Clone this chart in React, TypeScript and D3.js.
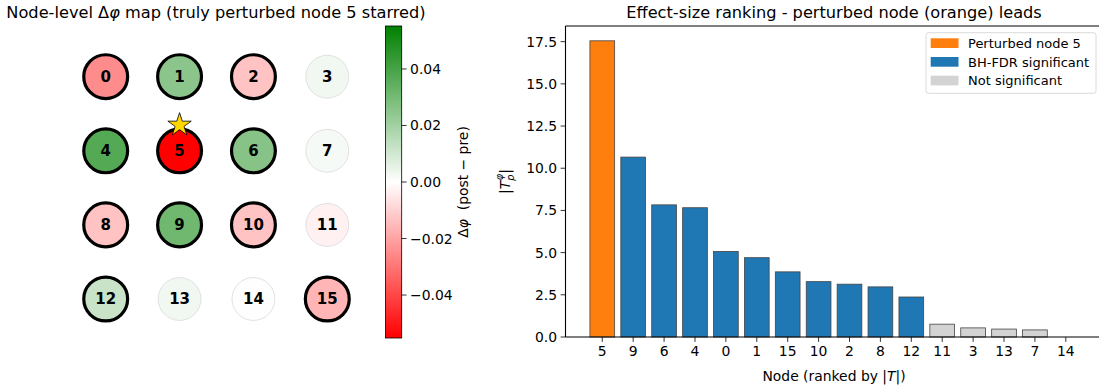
import * as d3 from "d3";

// left panel: per-node phase change on a 4x4 grid
const nodeIds = [0, 1, 2, 3, 4, 5, 6, 7, 8, 9, 10, 11, 12, 13, 14, 15];
const deltaPhi = [
  -0.025, 0.025, -0.013, 0.003, 0.037, -0.0552, 0.026, 0.002, -0.013, 0.031,
  -0.013, -0.003, 0.012, 0.003, 0.0005, -0.016,
];
const significantNodes = [0, 1, 2, 4, 5, 6, 8, 9, 10, 12, 15];
const perturbedNode = 5;
const cbarTicks = [-0.04, -0.02, 0, 0.02, 0.04];

// right panel: ranked effect sizes
const rankedNodes = [5, 9, 6, 4, 0, 1, 15, 10, 2, 8, 12, 11, 3, 13, 7, 14];
const tValues = [
  17.55, 10.66, 7.83, 7.66, 5.07, 4.7, 3.86, 3.28, 3.13, 2.97, 2.37, 0.76, 0.54,
  0.47, 0.42, 0.0,
];
const yTicks = [0, 2.5, 5, 7.5, 10, 12.5, 15, 17.5];
const legendItems = [
  { label: "Perturbed node 5", color: "#ff7f0e" },
  { label: "BH-FDR significant", color: "#1f77b4" },
  { label: "Not significant", color: "#d3d3d3" },
];

const W = 1099;
const H = 389;
const font = "DejaVu Sans, sans-serif";

function starPath(cx: number, cy: number, R: number) {
  const r = R * 0.381966;
  const pts: string[] = [];
  for (let i = 0; i < 10; i++) {
    const a = -Math.PI / 2 + (i * Math.PI) / 5;
    const rr = i % 2 === 0 ? R : r;
    pts.push(`${cx + rr * Math.cos(a)},${cy + rr * Math.sin(a)}`);
  }
  return "M" + pts.join("L") + "Z";
}

export default function App() {
  const vmax = d3.max(deltaPhi, (d) => Math.abs(d)) as number;
  const color = d3
    .scaleLinear<string>()
    .domain([-vmax, 0, vmax])
    .range(["#ff0000", "#ffffff", "#008000"])
    .interpolate(d3.interpolateRgb);

  const gx = d3.scaleLinear().domain([0, 3]).range([105.7, 327.3]);
  const gy = d3.scaleLinear().domain([0, 3]).range([76.7, 299]);
  const unit = gx(1) - gx(0);
  const radius = 0.297 * unit;

  // colorbar
  const cbX = 385.5;
  const cbW = 16.2;
  const cbY = d3.scaleLinear().domain([-vmax, vmax]).range([338, 26]);
  const gradStops = d3.range(0, 1.0001, 0.05);

  // bar chart
  const left = 565.5;
  const right = 1102.6;
  const top = 26;
  const bottom = 337;
  const x = d3
    .scaleBand<number>()
    .domain(rankedNodes)
    .range([left, right])
    .paddingInner(0.2)
    .paddingOuter(0.79);
  const yMax = d3.max(tValues)! * 1.05;
  const y = d3.scaleLinear().domain([0, yMax]).range([bottom, top]);

  const barColor = (n: number) =>
    n === perturbedNode
      ? "#ff7f0e"
      : significantNodes.includes(n)
      ? "#1f77b4"
      : "#d3d3d3";

  return (
    <svg
      width={W}
      height={H}
      style={{ position: "absolute", left: 0, top: 0, background: "white" }}
      fontFamily={font}
    >
      <defs>
        <linearGradient id="cbar" x1="0" y1="1" x2="0" y2="0">
          {gradStops.map((t, i) => (
            <stop
              key={i}
              offset={t}
              stopColor={color(-vmax + 2 * vmax * t)}
            />
          ))}
        </linearGradient>
      </defs>

      {/* left title */}
      <text x={216} y={18} textAnchor="middle" fontSize={16.2} fill="#000">
        Node-level Δ<tspan fontStyle="italic">φ</tspan> map (truly perturbed
        node 5 starred)
      </text>

      {/* node grid */}
      {nodeIds.map((n) => {
        const cx = gx(n % 4);
        const cy = gy(Math.floor(n / 4));
        const sig = significantNodes.includes(n);
        return (
          <g key={n}>
            <circle
              cx={cx}
              cy={cy}
              r={sig ? radius : radius - 0.5}
              fill={color(deltaPhi[n])}
              stroke={sig ? "#000" : "#d9d9d9"}
              strokeWidth={sig ? 3.2 : 0.8}
            />
            <text
              x={cx}
              y={cy}
              dy="0.36em"
              textAnchor="middle"
              fontSize={15}
              fontWeight="bold"
              fill="#000"
            >
              {n}
            </text>
          </g>
        );
      })}
      <path
        d={starPath(
          gx(perturbedNode % 4),
          gy(Math.floor(perturbedNode / 4)) - 0.35 * unit,
          12.3
        )}
        fill="#ffd700"
        stroke="#000"
        strokeWidth={0.8}
      />

      {/* colorbar */}
      <rect
        x={cbX}
        y={cbY(vmax)}
        width={cbW}
        height={cbY(-vmax) - cbY(vmax)}
        fill="url(#cbar)"
        stroke="#000"
        strokeWidth={0.8}
      />
      {cbarTicks.map((t) => (
        <g key={t}>
          <line
            x1={cbX + cbW}
            x2={cbX + cbW + 4.9}
            y1={cbY(t)}
            y2={cbY(t)}
            stroke="#000"
            strokeWidth={0.8}
          />
          <text
            x={cbX + cbW + 8.4}
            y={cbY(t)}
            dy="0.36em"
            fontSize={13.9}
            fill="#000"
          >
            {d3.format(".2f")(t).replace("-", "\u2212")}
          </text>
        </g>
      ))}
      <text
        transform={`translate(${468},${cbY(0)}) rotate(-90)`}
        textAnchor="middle"
        fontSize={13.9}
        fill="#000"
      >
        Δ<tspan fontStyle="italic">φ</tspan>
        {"\u00a0\u00a0(post \u2212 pre)"}
      </text>

      {/* right title */}
      <text
        x={(left + right) / 2}
        y={18}
        textAnchor="middle"
        fontSize={16.2}
        fill="#000"
      >
        Effect-size ranking - perturbed node (orange) leads
      </text>

      {/* bars */}
      {rankedNodes.map((n, i) => (
        <rect
          key={n}
          x={x(n)}
          y={y(tValues[i])}
          width={x.bandwidth()}
          height={bottom - y(tValues[i])}
          fill={barColor(n)}
          stroke="#444"
          strokeWidth={0.8}
        />
      ))}

      {/* axes frame */}
      <line x1={left} x2={left} y1={top} y2={bottom} stroke="#000" strokeWidth={1.1} />
      <line x1={left} x2={right} y1={top} y2={top} stroke="#000" strokeWidth={1.1} />
      <line x1={right} x2={right} y1={top} y2={bottom} stroke="#000" strokeWidth={1.1} />
      <line x1={left} x2={right} y1={bottom} y2={bottom} stroke="#000" strokeWidth={1.1} />

      {/* y axis */}
      {yTicks.map((t) => (
        <g key={t}>
          <line
            x1={left - 4.9}
            x2={left}
            y1={y(t)}
            y2={y(t)}
            stroke="#000"
            strokeWidth={0.8}
          />
          <text
            x={left - 8.4}
            y={y(t)}
            dy="0.36em"
            textAnchor="end"
            fontSize={13.9}
            fill="#000"
          >
            {d3.format(".1f")(t)}
          </text>
        </g>
      ))}
      <text
        transform={`translate(${510},${(top + bottom) / 2}) rotate(-90)`}
        textAnchor="middle"
        fontSize={13.9}
        fill="#000"
      >
        |<tspan fontStyle="italic">T</tspan>
        <tspan fontStyle="italic" fontSize={9.7} dy={4}>
          p
        </tspan>
        <tspan fontStyle="italic" fontSize={9.7} dx={-5.5} dy={-11}>
          φ
        </tspan>
        <tspan dy={7}>|</tspan>
      </text>

      {/* x axis */}
      {rankedNodes.map((n) => {
        const cx = (x(n) as number) + x.bandwidth() / 2;
        return (
          <g key={n}>
            <line
              x1={cx}
              x2={cx}
              y1={bottom}
              y2={bottom + 4.9}
              stroke="#000"
              strokeWidth={0.8}
            />
            <text
              x={cx}
              y={bottom + 8.4}
              dy="0.76em"
              textAnchor="middle"
              fontSize={13.9}
              fill="#000"
            >
              {n}
            </text>
          </g>
        );
      })}
      <text
        x={(left + right) / 2}
        y={381}
        textAnchor="middle"
        fontSize={13.9}
        fill="#000"
      >
        Node (ranked by |<tspan fontStyle="italic">T</tspan>|)
      </text>

      {/* legend */}
      <rect
        x={926}
        y={32.7}
        width={170}
        height={60.6}
        rx={2.5}
        fill="white"
        fillOpacity={0.8}
        stroke="#d0d0d0"
        strokeWidth={0.8}
      />
      {legendItems.map((d, i) => (
        <g key={d.label}>
          <rect
            x={930.7}
            y={38.3 + i * 18.7}
            width={27.8}
            height={9.7}
            fill={d.color}
          />
          <text
            x={968}
            y={43.2 + i * 18.7}
            dy="0.36em"
            fontSize={13}
            fill="#000"
          >
            {d.label}
          </text>
        </g>
      ))}
    </svg>
  );
}
